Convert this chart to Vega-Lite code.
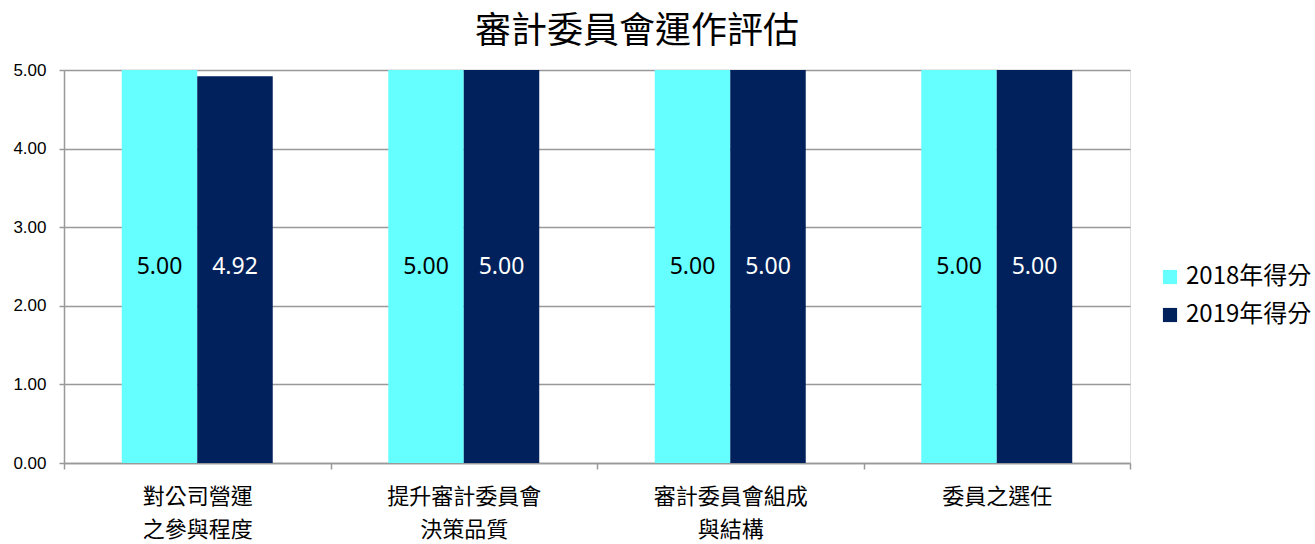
{
  "$schema": "https://vega.github.io/schema/vega-lite/v6.json",
  "width": 1066,
  "height": 393,
  "autosize": {"type": "none"},
  "padding": {"left": 64, "top": 70, "right": 185, "bottom": 81},
  "background": "white",
  "title": {
    "text": "審計委員會運作評估",
    "font": "Noto Sans CJK TC",
    "fontSize": 36,
    "fontWeight": "normal",
    "color": "#000000",
    "anchor": "middle",
    "dx": 40,
    "offset": 10
  },
  "data": {
    "values": [
      {"cat": "對公司營運|之參與程度", "series": "2018年得分", "score": 5.00},
      {"cat": "對公司營運|之參與程度", "series": "2019年得分", "score": 4.92},
      {"cat": "提升審計委員會|決策品質", "series": "2018年得分", "score": 5.00},
      {"cat": "提升審計委員會|決策品質", "series": "2019年得分", "score": 5.00},
      {"cat": "審計委員會組成|與結構", "series": "2018年得分", "score": 5.00},
      {"cat": "審計委員會組成|與結構", "series": "2019年得分", "score": 5.00},
      {"cat": "委員之選任", "series": "2018年得分", "score": 5.00},
      {"cat": "委員之選任", "series": "2019年得分", "score": 5.00}
    ]
  },
  "encoding": {
    "x": {
      "field": "cat",
      "type": "nominal",
      "sort": null,
      "scale": {"paddingInner": 0, "paddingOuter": 0},
      "axis": {
        "title": null,
        "labelAngle": 0,
        "labelExpr": "datum.value ? split(datum.value, '|') : ''",
        "labelFont": "Noto Sans CJK TC",
        "labelFontSize": 22,
        "labelColor": "#000000",
        "labelLineHeight": 33,
        "labelPadding": 17,
        "tickBand": "extent",
        "tickSize": 6,
        "tickColor": "#999999",
        "tickWidth": 1.5,
        "domainColor": "#999999",
        "domainWidth": 1.5,
        "grid": false
      }
    },
    "xOffset": {"field": "series", "type": "nominal", "scale": {"paddingInner": 0, "paddingOuter": 0.765}},
    "y": {
      "field": "score",
      "type": "quantitative",
      "scale": {"domain": [0, 5], "nice": false},
      "axis": {
        "title": null,
        "values": [0, 1, 2, 3, 4, 5],
        "format": ".2f",
        "labelFont": "Liberation Sans",
        "labelFontSize": 17,
        "labelColor": "#000000",
        "labelPadding": 13,
        "tickSize": 5,
        "tickColor": "#999999",
        "tickWidth": 1.5,
        "domainColor": "#999999",
        "domainWidth": 1.5,
        "gridColor": "#999999",
        "gridWidth": 1.5
      }
    }
  },
  "layer": [
    {
      "mark": {"type": "bar"},
      "encoding": {
        "color": {
          "field": "series",
          "type": "nominal",
          "scale": {"domain": ["2018年得分", "2019年得分"], "range": ["#66FFFF", "#00215B"]},
          "legend": {
            "title": null,
            "orient": "none",
            "legendX": 1094,
            "legendY": 195,
            "symbolType": "square",
            "symbolSize": 200,
            "symbolStrokeWidth": 0,
            "labelFont": "Noto Sans CJK TC",
            "labelFontSize": 24,
            "labelColor": "#000000",
            "rowPadding": 14,
            "labelOffset": 4
          }
        }
      }
    },
    {
      "transform": [{"filter": "datum.series === '2018年得分'"}],
      "mark": {"type": "text", "font": "Noto Sans", "fontSize": 23, "baseline": "middle", "fill": "#000000", "color": "#000000"},
      "encoding": {
        "y": {"datum": 2.5},
        "text": {"field": "score", "type": "quantitative", "format": ".2f"}
      }
    },
    {
      "transform": [{"filter": "datum.series === '2019年得分'"}],
      "mark": {"type": "text", "font": "Noto Sans", "fontSize": 23, "baseline": "middle", "fill": "#FFFFFF", "color": "#FFFFFF"},
      "encoding": {
        "y": {"datum": 2.5},
        "text": {"field": "score", "type": "quantitative", "format": ".2f"}
      }
    }
  ]
}
